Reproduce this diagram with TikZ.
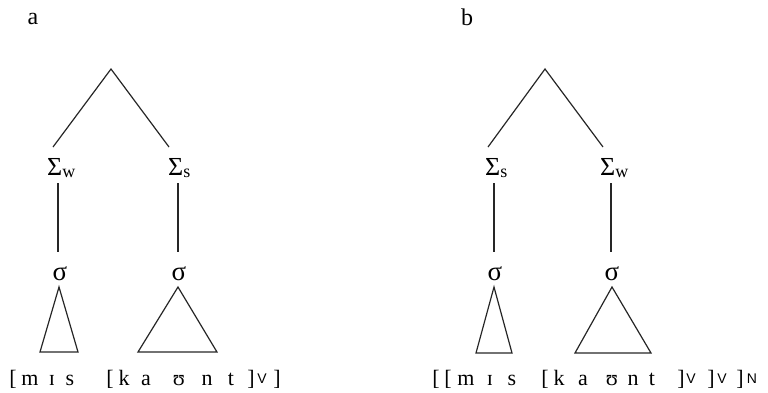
\documentclass[tikz,border=0pt]{standalone}
\usepackage{fontspec}
\setmainfont{Liberation Serif}
\newfontfamily\subsans{Liberation Sans}
\begin{document}
\begin{tikzpicture}[x=1pt,y=-1pt,
  edge/.style={line width=1.2pt, black!85},
  glyph/.style={inner sep=0pt, anchor=base, font=\fontsize{22}{22}\selectfont},
  subg/.style={inner sep=0pt, anchor=base, font=\subsans\fontsize{14}{14}\selectfont},
  sig/.style={inner sep=0pt, anchor=base, font=\fontsize{27}{27}\selectfont},
  foot/.style={inner sep=0pt, anchor=base west, font=\fontsize{26}{26}\selectfont},
  lab/.style={inner sep=0pt, anchor=base, font=\fontsize{24}{24}\selectfont}]
\useasboundingbox (0,0) rectangle (768,392);

% ---------- labels ----------
\node[lab] (labA) at (33,24) {a};
\node[lab] (labB) at (467,25) {b};

% ---------- tree a ----------
\coordinate (topA) at (111,69);
\coordinate (legAl) at (53,147);
\coordinate (legAr) at (169,147);
\node[foot] (SwA) at (47,175) {Σ\raisebox{-2pt}{\fontsize{18}{18}\selectfont w}};
\node[foot] (SsA) at (168,175) {Σ\raisebox{-2pt}{\fontsize{18}{18}\selectfont s}};
\coordinate (vAl1) at (58,183); \coordinate (vAl2) at (58,252);
\coordinate (vAr1) at (178,183); \coordinate (vAr2) at (178,252);
\node[sig] (sgAl) at (60,280) {σ};
\node[sig] (sgAr) at (179,280) {σ};
\coordinate (tAl) at (59,287);
\coordinate (tAr) at (178,287);
\draw[edge] (legAl) -- (topA) -- (legAr);
\draw[edge] (vAl1) -- (vAl2);
\draw[edge] (vAr1) -- (vAr2);
\draw[edge, line join=miter] (tAl) -- (40,352) -- (78,352) -- cycle;
\draw[edge, line join=miter] (tAr) -- (138,352) -- (217,352) -- cycle;

\foreach \x/\t [count=\i] in {13/{[},30/m,52/ɪ,70/s,110/{[},124/k,146/a,179/ʊ,207/n,231/t,251/{]},277/{]}}
  \node[glyph] (wa\i) at (\x,385) {\t};
\node[subg] (wasub1) at (262,383) {V};

% ---------- tree b ----------
\coordinate (topB) at (545,69);
\coordinate (legBl) at (488,147);
\coordinate (legBr) at (603,147);
\node[foot] (SsB) at (485,175) {Σ\raisebox{-2pt}{\fontsize{18}{18}\selectfont s}};
\node[foot] (SwB) at (600,175) {Σ\raisebox{-2pt}{\fontsize{18}{18}\selectfont w}};
\coordinate (vBl1) at (494,183); \coordinate (vBl2) at (494,252);
\coordinate (vBr1) at (611,183); \coordinate (vBr2) at (611,252);
\node[sig] (sgBl) at (495,280) {σ};
\node[sig] (sgBr) at (612,280) {σ};
\coordinate (tBl) at (494,287);
\coordinate (tBr) at (612,287);
\draw[edge] (legBl) -- (topB) -- (legBr);
\draw[edge] (vBl1) -- (vBl2);
\draw[edge] (vBr1) -- (vBr2);
\draw[edge, line join=miter] (tBl) -- (476,353) -- (512,353) -- cycle;
\draw[edge, line join=miter] (tBr) -- (575,353) -- (651,353) -- cycle;

\foreach \x/\t [count=\i] in {436/{[},448/{[},466/m,490/ɪ,512/s,545/{[},559/k,583/a,612/ʊ,633/n,652/t,681/{]},711/{]},740/{]}}
  \node[glyph] (wb\i) at (\x,385) {\t};
\node[subg] (wbsub1) at (691,383) {V};
\node[subg] (wbsub2) at (722,383) {V};
\node[subg] (wbsub3) at (752,383) {N};
\end{tikzpicture}
\end{document}
